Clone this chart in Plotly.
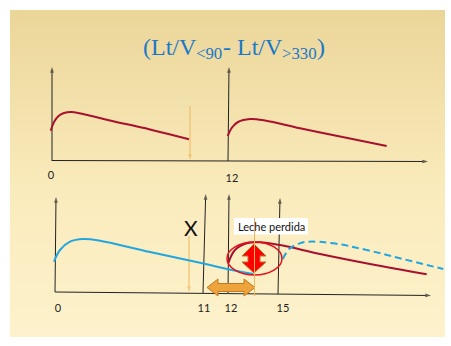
import plotly.graph_objects as go

# ---------------- data (diagram coordinates) ----------------
# top panel: two lactation curves (first lactation, second lactation after 12 months)
top_lact1_x = [50.7, 54, 58, 64, 72, 85, 110, 150, 189]
top_lact1_y = [130.7, 122, 116.5, 113, 112, 114.5, 120.5, 129.5, 139.3]
top_lact2_x = [227.7, 232, 238, 250, 265, 300, 345, 386.7]
top_lact2_y = [136, 127.5, 122, 119, 120.5, 128.3, 137.5, 146]

# bottom panel: extended lactation (blue), new lactation (dark red), shifted new lactation (dashed)
bot_blue_x = [54, 60, 70, 83.3, 100, 150, 200, 225, 253.3]
bot_blue_y = [261.7, 250, 241.7, 239, 240.7, 252, 262.7, 268.5, 274]
bot_red_x = [228.3, 235, 246.7, 260, 280, 320, 370, 426.7]
bot_red_y = [263.3, 250, 243.3, 242.3, 245, 254, 264, 274.3]
bot_dash_x = [282.7, 290, 300, 308.3, 333.3, 366.7, 400, 443.3]
bot_dash_y = [259, 248.3, 243.3, 241.7, 243.3, 250, 258.3, 269]

top_tick_labels = ["0", "12"]
top_tick_x = [51, 232]
top_tick_y = [176, 179]
bot_tick_labels = ["0", "11", "12", "15"]
bot_tick_x = [58, 204, 231, 283]
bot_tick_y = [309, 309, 309, 309]

# title pieces: (text, is_subscript)
title_parts = [("(Lt/V", False), ("<90", True), ("- Lt/V", False), (">330", True), (")", False)]
title_widths = [53.3, 26.3, 59.3, 34.7, 8.0]
label_lost = "Leche perdida"
label_x = "X"

# ---------------- figure ----------------
W, H = 451, 346
fig = go.Figure()

# slide background with vertical gradient
fig.add_trace(go.Scatter(
    x=[10, 445, 445, 10, 10], y=[10, 10, 337, 337, 10],
    mode="lines", line=dict(width=0), fill="toself",
    fillgradient=dict(type="vertical",
                      colorscale=[[0, "#FDF2CC"], [0.45, "#FAEBBC"], [1, "#EBD699"]]),
    hoverinfo="skip", showlegend=False))

CRIMSON = "#A8102E"
BLUE = "#22A6E0"

def curve(xs, ys, color, dash="solid"):
    fig.add_trace(go.Scatter(x=xs, y=ys, mode="lines",
                             line=dict(color=color, width=2, shape="spline", smoothing=1.1, dash=dash),
                             hoverinfo="skip", showlegend=False))

def arrow(x0, y0, x1, y1, color="#222222", width=1, head=True, size=6):
    fig.add_trace(go.Scatter(
        x=[x0, x1], y=[y0, y1], mode="lines+markers" if head else "lines",
        line=dict(color=color, width=width),
        marker=dict(symbol="arrow", angleref="previous", size=[0, size], color=color,
                    line=dict(width=0)),
        hoverinfo="skip", showlegend=False))

# top panel axes
arrow(52, 161, 52, 67)
arrow(52, 160.5, 428, 161.5)
arrow(228, 161, 229, 67)
arrow(190, 106, 190, 160, color="#F2B65A", size=6)
# bottom panel axes and event lines
arrow(55, 292, 56, 197)
arrow(55, 292, 431, 295.5)
arrow(203, 293, 205.7, 194)
arrow(228, 293, 229, 194)
arrow(278, 294, 280, 198)
arrow(189, 236, 189, 292, color="#F2B65A", size=6)

curve(top_lact1_x, top_lact1_y, CRIMSON)
curve(top_lact2_x, top_lact2_y, CRIMSON)
curve(bot_blue_x, bot_blue_y, BLUE)
curve(bot_red_x, bot_red_y, CRIMSON)
curve(bot_dash_x, bot_dash_y, BLUE, dash="7px,4px")

# orange left/right arrow
hx = [207, 218, 218, 244, 244, 255, 244, 244, 218, 218, 207]
hy = [287.5, 279, 283.5, 283.5, 279, 287.5, 296, 291.5, 291.5, 296, 287.5]
fig.add_trace(go.Scatter(x=hx, y=hy, mode="lines", fill="toself", fillcolor="#EEA43A",
                         line=dict(color="#C07A22", width=1), hoverinfo="skip", showlegend=False))

# tick labels
fig.add_trace(go.Scatter(x=top_tick_x, y=top_tick_y, mode="text", text=top_tick_labels,
                         textfont=dict(family="Lato", size=11, color="#222222"),
                         hoverinfo="skip", showlegend=False))
fig.add_trace(go.Scatter(x=bot_tick_x, y=bot_tick_y, mode="text", text=bot_tick_labels,
                         textfont=dict(family="Lato", size=11, color="#222222"),
                         hoverinfo="skip", showlegend=False))

# ellipse and label box (drawn above traces)
shapes = [
    dict(type="rect", x0=234, x1=308, y0=218, y1=234.5, xref="x", yref="y",
         fillcolor="white", line=dict(width=0)),
    dict(type="circle", x0=227, x1=282, y0=242, y1=275, xref="x", yref="y",
         line=dict(color="#E3101B", width=1.5)),
    dict(type="path", xref="x", yref="y",
         path="M254,244 L266,256 L260,256 L260,262 L266,262 L254,273 L242,262 L248,262 "
              "L248,256 L242,256 Z",
         fillcolor="#FF0000", line=dict(color="#B8742A", width=1)),
    dict(type="line", x0=254.5, x1=254.5, y0=218, y1=296, xref="x", yref="y",
         line=dict(color="#F2B65A", width=1)),
]
fig.update_layout(shapes=shapes)

annotations = [
    dict(x=271, y=226.5, xref="x", yref="y", text=label_lost, showarrow=False,
         font=dict(family="Lato", size=11, color="#111111")),
    dict(x=191, y=227.5, xref="x", yref="y", text=label_x, showarrow=False,
         font=dict(family="Lato", size=21, color="#111111")),
]
# title assembled from pieces (main text + lowered, smaller subscripts)
tx = 142.0
for (txt, is_sub), w in zip(title_parts, title_widths):
    annotations.append(dict(
        x=tx, y=53.5 if is_sub else 47, xref="x", yref="y", xanchor="left", yanchor="middle",
        text=txt.replace("<", "&lt;").replace(">", "&gt;"), showarrow=False, borderpad=0,
        font=dict(family="Liberation Serif", size=16.8 if is_sub else 24, color="#1B78C8")))
    tx += w
fig.update_layout(annotations=annotations)

fig.update_layout(
    width=W, height=H, margin=dict(l=0, r=0, t=0, b=0),
    paper_bgcolor="white", plot_bgcolor="white",
    xaxis=dict(range=[0, W], visible=False, fixedrange=True),
    yaxis=dict(range=[H, 0], visible=False, fixedrange=True),
    showlegend=False,
)

fig.write_html("out.html", config={"displayModeBar": False})
